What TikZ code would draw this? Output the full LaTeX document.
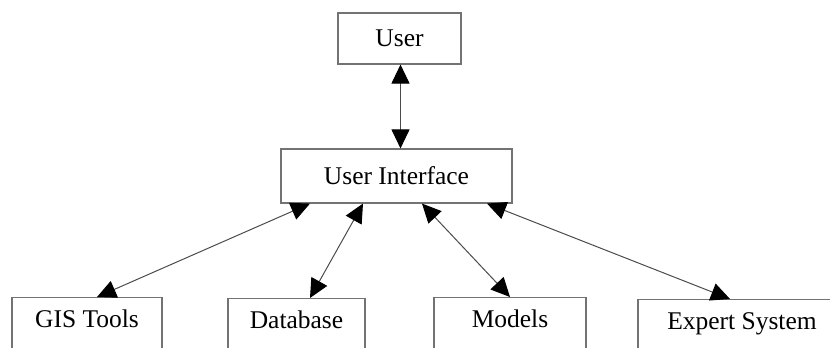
\documentclass[tikz,border=0pt]{standalone}
\usepackage{fontspec}
\setmainfont{Liberation Serif}
\usetikzlibrary{arrows.meta}
\begin{document}
\begin{tikzpicture}[x=1pt,y=-1pt,
  box/.style={draw=black!55, line width=1.1pt, inner sep=0pt, font=\fontsize{25.5}{30}\selectfont},
  lowbox/.style={box, anchor=north, text height=29.5pt, text depth=45pt},
  tip/.tip={Triangle[length=19pt,width=18pt,color=black,fill=black]},
  link/.style={draw=black!70, line width=1pt, tip-tip}]
\useasboundingbox (0,0) rectangle (830,348);
\fill[white] (0,0) rectangle (830,348);
\clip (0,0) rectangle (830,348);
\node[box, minimum width=123pt, minimum height=51pt] (user) at (399.5,38.5) {User};
\node[box, minimum width=231pt, minimum height=54pt] (ui) at (396.5,176) {User Interface};
\node[lowbox, minimum width=150pt] (gis) at (87,297) {GIS Tools};
\node[lowbox, minimum width=137pt] (db) at (296.5,298) {Database};
\node[lowbox, minimum width=152pt] (mod) at (510,297) {Models};
\node[lowbox, minimum width=208pt] (exp) at (742,299) {Expert System};
\draw[link] ([xshift=1pt]user.south) -- ([xshift=4pt]ui.north);
\draw[link] ([xshift=-86.5pt]ui.south) -- ([xshift=10pt]gis.north);
\draw[link] ([xshift=-33.5pt]ui.south) -- ([xshift=13.5pt]db.north);
\draw[link] ([xshift=25.5pt]ui.south) -- ([xshift=0pt]mod.north);
\draw[link] ([xshift=90.5pt]ui.south) -- ([xshift=-12pt]exp.north);
\end{tikzpicture}
\end{document}
